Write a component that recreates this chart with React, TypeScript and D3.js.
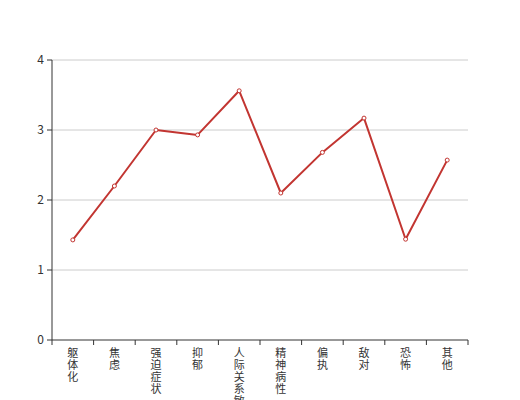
import React from "react";
import * as d3 from "d3";

const categories = ["躯体化", "焦虑", "强迫症状", "抑郁", "人际关系敏感", "精神病性", "偏执", "敌对", "恐怖", "其他"];
const values = [1.43, 2.2, 3.0, 2.93, 3.56, 2.1, 2.68, 3.17, 1.44, 2.57];
const yTicks = [0, 1, 2, 3, 4];

const W = 520, H = 400;
const left = 52, right = 468, top = 60, bottom = 340;
const color = "#c23531";
const font = "'Noto Sans CJK SC', 'Noto Sans', sans-serif";

export default function App() {
  const x = d3.scaleBand<string>().domain(categories).range([left, right]).padding(0);
  const y = d3.scaleLinear().domain([0, 4]).range([bottom, top]);
  const cx = (c: string) => (x(c) as number) + x.bandwidth() / 2;
  const line = d3.line<number>().x((_, i) => cx(categories[i])).y((d) => y(d));
  const bounds = categories.map((c) => x(c) as number).concat([right]);

  return (
    <svg width={W} height={H} style={{ position: "absolute", left: 0, top: 0 }}>
      <rect width={W} height={H} fill="#fff" />
      {yTicks.map((t) => (
        <g key={t}>
          {t > 0 && <line x1={left} x2={right} y1={y(t)} y2={y(t)} stroke="#ccc" strokeWidth={1} />}
          <line x1={left - 5} x2={left} y1={y(t)} y2={y(t)} stroke="#333" strokeWidth={1} />
          <text x={left - 8} y={y(t)} dy="0.35em" textAnchor="end" fontSize={12} fill="#333" fontFamily={font}>
            {t}
          </text>
        </g>
      ))}
      <line x1={left} x2={left} y1={top} y2={bottom} stroke="#333" strokeWidth={1} />
      <line x1={left} x2={right} y1={bottom} y2={bottom} stroke="#333" strokeWidth={1} />
      {bounds.map((b, i) => (
        <line key={i} x1={b} x2={b} y1={bottom} y2={bottom + 5} stroke="#333" strokeWidth={1} />
      ))}
      {categories.map((c) => (
        <text key={c} textAnchor="middle" fontSize={11} fill="#333" fontFamily={font}>
          {c.split("").map((ch, i) => (
            <tspan key={i} x={cx(c)} y={357 + i * 12}>
              {ch}
            </tspan>
          ))}
        </text>
      ))}
      <path d={line(values) || ""} fill="none" stroke={color} strokeWidth={2} strokeLinejoin="bevel" />
      {values.map((v, i) => (
        <circle key={i} cx={cx(categories[i])} cy={y(v)} r={2} fill="#fff" stroke={color} strokeWidth={1} />
      ))}
    </svg>
  );
}
